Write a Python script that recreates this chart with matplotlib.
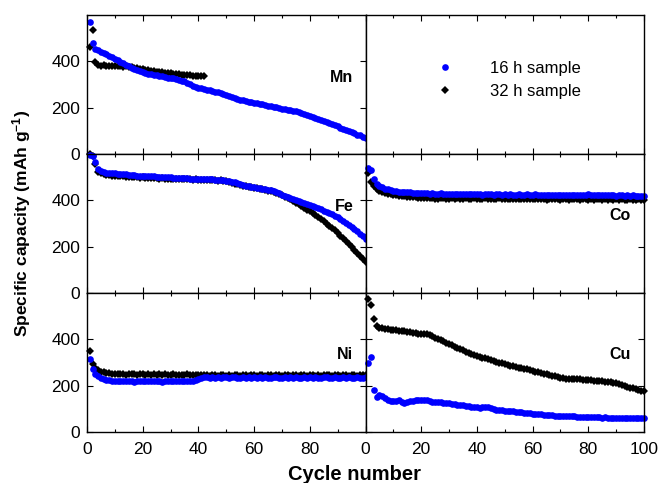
import numpy as np
import matplotlib
matplotlib.use("Agg")
import matplotlib.pyplot as plt
from matplotlib.ticker import MultipleLocator

plt.rcParams['font.family'] = ['Liberation Sans', 'DejaVu Sans']
plt.rcParams['mathtext.fontset'] = 'custom'
plt.rcParams['mathtext.rm'] = 'Liberation Sans'
plt.rcParams['mathtext.bf'] = 'Liberation Sans:bold'

# cycle index for every series
cycles = np.arange(1, 101)

# specific capacity (mAh/g), 16 h sample (blue) and 32 h sample (black)
mn_16h = [570, 478, 455, 447, 441, 436, 430, 424, 418, 411,
          404, 398, 391, 385, 379, 373, 368, 363, 358, 354,
          350, 347, 344, 341, 339, 337, 335, 333, 330, 328,
          326, 323, 320, 317, 313, 307, 301, 295, 290, 286,
          283, 281, 278, 275, 272, 269, 266, 262, 258, 254,
          250, 246, 242, 238, 234, 231, 228, 226, 224, 222,
          219, 217, 214, 211, 209, 207, 205, 202, 199, 196,
          193, 190, 188, 187, 184, 180, 176, 172, 167, 163,
          159, 156, 152, 148, 144, 139, 134, 129, 124, 119,
          114, 109, 104, 99, 94, 89, 84, 80, 75, 71]
mn_32h = [462, 535, 397, 386, 381, 383, 379, 382, 380, 378,
          381, 379, 377, 380, 376, 374, 372, 370, 368, 366,
          364, 362, 360, 358, 356, 354, 352, 351, 349, 348,
          346, 345, 344, 342, 341, 340, 339, 338, 337, 336,
          335, 338]

fe_16h = [595, 592, 564, 535, 527, 522, 520, 518, 517, 516,
          515, 514, 513, 512, 510, 509, 508, 507, 507, 506,
          505, 504, 503, 503, 502, 501, 500, 500, 499, 499,
          498, 497, 497, 496, 496, 495, 494, 494, 493, 493,
          492, 492, 491, 490, 490, 489, 488, 487, 486, 485,
          483, 480, 477, 474, 470, 467, 464, 461, 459, 457,
          455, 453, 451, 449, 446, 443, 439, 435, 430, 425,
          420, 415, 411, 406, 401, 397, 393, 389, 385, 380,
          376, 371, 366, 361, 356, 351, 346, 340, 334, 327,
          320, 312, 303, 294, 285, 276, 266, 255, 244, 233]
fe_32h = [598, 590, 556, 522, 516, 512, 509, 508, 507, 506,
          505, 504, 503, 502, 502, 501, 500, 499, 498, 499,
          498, 497, 496, 496, 495, 494, 495, 493, 494, 492,
          493, 492, 491, 492, 490, 491, 490, 489, 490, 489,
          488, 489, 487, 488, 486, 487, 485, 486, 484, 483,
          478, 474, 471, 469, 466, 463, 461, 459, 456, 454,
          452, 450, 448, 445, 442, 439, 435, 431, 426, 421,
          416, 410, 404, 397, 390, 383, 376, 368, 360, 352,
          344, 336, 327, 318, 309, 300, 290, 280, 270, 260,
          248, 236, 224, 212, 199, 186, 172, 158, 145, 132]

co_16h = [540, 532, 492, 472, 463, 456, 451, 447, 444, 442,
          440, 438, 437, 436, 435, 434, 433, 433, 432, 431,
          431, 430, 429, 431, 428, 429, 430, 428, 427, 429,
          428, 427, 429, 428, 426, 427, 428, 426, 427, 428,
          426, 425, 427, 429, 426, 425, 426, 427, 425, 426,
          425, 426, 424, 425, 427, 425, 424, 426, 425, 424,
          426, 424, 423, 425, 424, 423, 425, 424, 422, 424,
          423, 425, 423, 422, 424, 423, 422, 424, 423, 426,
          422, 421, 423, 422, 421, 423, 422, 421, 422, 420,
          421, 422, 420, 421, 420, 421, 420, 419, 420, 419]
co_32h = [518, 478, 462, 450, 442, 436, 432, 429, 426, 424,
          422, 420, 419, 418, 416, 415, 414, 413, 412, 411,
          410, 409, 408, 410, 407, 405, 408, 409, 407, 406,
          408, 407, 409, 406, 407, 408, 406, 407, 408, 406,
          407, 405, 408, 406, 407, 405, 406, 408, 405, 406,
          405, 407, 406, 404, 406, 405, 407, 405, 404, 406,
          405, 404, 406, 405, 403, 405, 406, 404, 405, 403,
          405, 404, 403, 405, 404, 406, 403, 404, 405, 403,
          404, 403, 405, 404, 402, 404, 403, 405, 403, 404,
          403, 404, 402, 403, 404, 402, 403, 404, 402, 403]

ni_16h = [313, 272, 250, 240, 233, 229, 226, 224, 222, 221,
          220, 219, 221, 218, 220, 219, 217, 220, 218, 219,
          221, 218, 220, 219, 218, 220, 217, 219, 221, 218,
          219, 220, 218, 219, 221, 220, 218, 222, 224, 228,
          234, 237, 236, 235, 237, 234, 236, 235, 237, 236,
          234, 236, 237, 235, 234, 236, 235, 237, 234, 236,
          235, 237, 234, 236, 235, 234, 236, 237, 235, 234,
          236, 235, 237, 234, 236, 235, 234, 236, 235, 237,
          234, 236, 235, 234, 236, 237, 235, 234, 236, 235,
          234, 236, 235, 237, 234, 235, 236, 234, 235, 236]
ni_32h = [348, 292, 275, 266, 261, 258, 255, 253, 252, 251,
          250, 249, 251, 248, 250, 249, 251, 248, 250, 249,
          248, 250, 247, 249, 248, 250, 247, 249, 248, 247,
          249, 248, 246, 248, 247, 249, 246, 248, 247, 246,
          245, 244, 246, 243, 245, 244, 243, 245, 244, 243,
          245, 243, 244, 246, 243, 244, 245, 243, 244, 245,
          243, 244, 246, 243, 245, 244, 243, 245, 244, 243,
          244, 245, 243, 244, 246, 243, 244, 245, 243, 244,
          245, 243, 244, 243, 245, 244, 246, 243, 244, 245,
          243, 244, 245, 243, 244, 245, 243, 244, 245, 244]

cu_16h = [300, 322, 183, 150, 158, 156, 145, 138, 133, 132,
          135, 137, 130, 126, 128, 132, 135, 137, 138, 139,
          139, 137, 134, 131, 130, 130, 128, 126, 125, 124,
          122, 119, 116, 118, 117, 114, 112, 110, 108, 106,
          104, 106, 109, 107, 103, 100, 97, 95, 93, 92,
          91, 90, 89, 88, 86, 85, 83, 81, 80, 79,
          78, 77, 76, 75, 74, 73, 72, 71, 71, 70,
          69, 68, 68, 67, 67, 66, 66, 65, 65, 64,
          64, 63, 64, 63, 62, 63, 62, 62, 61, 62,
          61, 62, 61, 60, 61, 61, 60, 61, 60, 60]
cu_32h = [574, 548, 487, 458, 450, 447, 445, 443, 442, 440,
          439, 437, 436, 434, 432, 430, 428, 426, 424, 423,
          424, 422, 418, 413, 407, 401, 396, 391, 385, 379,
          374, 368, 363, 357, 352, 347, 343, 338, 334, 329,
          325, 321, 318, 314, 311, 307, 303, 299, 296, 293,
          290, 287, 284, 281, 278, 275, 272, 270, 267, 264,
          261, 258, 255, 252, 249, 246, 243, 240, 237, 234,
          232, 230, 229, 228, 228, 229, 228, 226, 225, 224,
          223, 222, 220, 219, 218, 216, 215, 214, 212, 210,
          207, 204, 200, 196, 192, 189, 185, 182, 178, 175]

# panel position -> (metal, 16 h data, 32 h data, label x, label y)
panels = {
    (0, 0): ("Mn", mn_16h, mn_32h, 91.5, 330),
    (1, 0): ("Fe", fe_16h, fe_32h, 92.5, 375),
    (1, 1): ("Co", co_16h, co_32h, 91.5, 335),
    (2, 0): ("Ni", ni_16h, ni_32h, 92.5, 335),
    (2, 1): ("Cu", cu_16h, cu_32h, 91.5, 335),
}

fig, axes = plt.subplots(3, 2, figsize=(6.62, 4.83), dpi=100)
fig.subplots_adjust(left=87/662, right=644/662, top=1-15/483,
                    bottom=1-432/483, hspace=0, wspace=0)

handles = None
for r in range(3):
    for c in range(2):
        ax = axes[r, c]
        ax.set_xlim(0, 100)
        ax.set_ylim(0, 600)
        ax.xaxis.set_major_locator(MultipleLocator(20))
        ax.xaxis.set_minor_locator(MultipleLocator(10))
        ax.set_yticks([0, 200, 400])
        ax.tick_params(which='both', direction='in', top=True, right=True,
                       width=0.8, labelsize=12.5)
        ax.tick_params(which='major', length=4.5)
        ax.tick_params(which='minor', length=2.5)
        ax.tick_params(axis='y', pad=5)
        ax.tick_params(axis='x', pad=7)
        for s in ax.spines.values():
            s.set_linewidth(1.0)

        if r < 2:
            ax.tick_params(labelbottom=False)
        elif c == 0:
            ax.set_xticks([0, 20, 40, 60, 80, 100])
            ax.set_xticklabels(['0', '20', '40', '60', '80', ''])
        if c == 1:
            ax.tick_params(labelleft=False)

        if (r, c) not in panels:
            continue
        name, y16, y32, lx, ly = panels[(r, c)]
        h32, = ax.plot(cycles[:len(y32)], y32, ls='none', marker='D', ms=3.6,
                       mew=0, color='black', label='32 h sample', clip_on=False)
        h16, = ax.plot(cycles[:len(y16)], y16, ls='none', marker='o', ms=4.8,
                       mew=0, color='#0000ff', label='16 h sample', clip_on=False)
        ax.text(lx, ly, name, ha='center', va='center', fontsize=11.5,
                fontweight='bold')
        if handles is None:
            handles = [h16, h32]

# empty top-right panel holds the legend
leg_ax = axes[0, 1]
leg_ax.tick_params(axis='y', which='both', left=False, right=False)
leg_ax.legend(handles=handles, loc='center left', bbox_to_anchor=(0.225, 0.533),
              frameon=False, fontsize=12, handletextpad=1.7, borderpad=0,
              borderaxespad=0, labelspacing=0.45, numpoints=1)

fig.text(22/662, 0.538, r'Specific capacity (mAh g$\mathbf{^{-1}}$)',
         rotation=90, ha='center', va='center', fontsize=12.5, fontweight='bold')
fig.text(354/662, 1-480/483, 'Cycle number', ha='center', va='baseline',
         fontsize=14.5, fontweight='bold')

fig.savefig('out.png', dpi=100)
